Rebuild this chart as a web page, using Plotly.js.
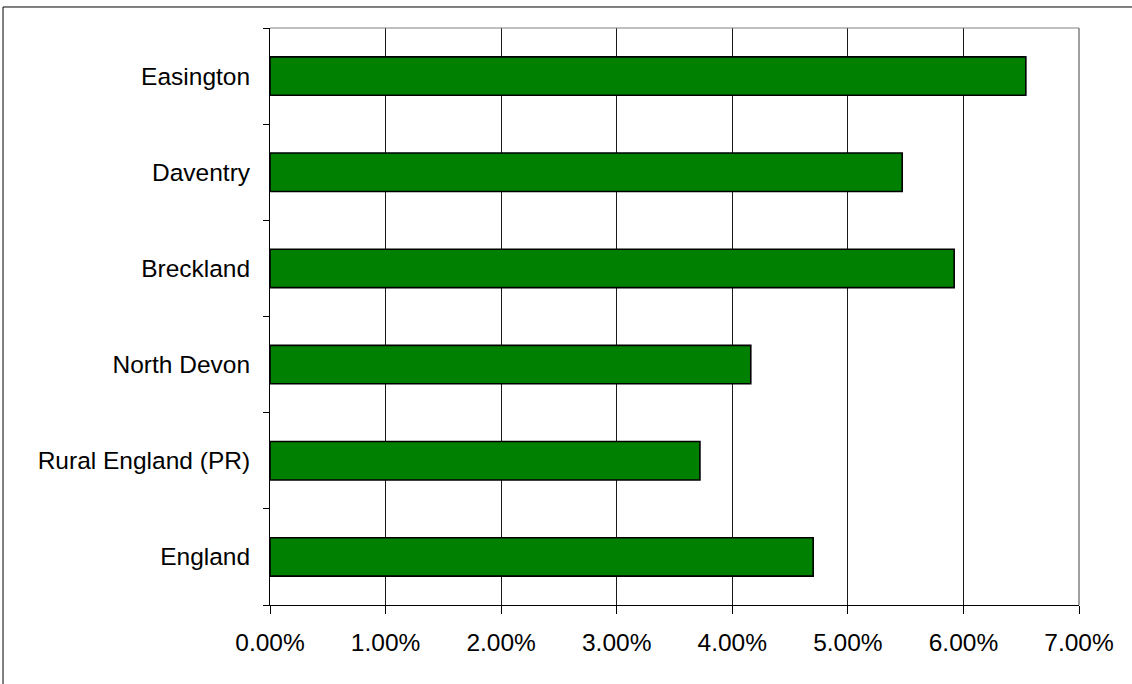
<!DOCTYPE html>
<html>
<head>
<meta charset="utf-8">
<script src="https://cdn.plot.ly/plotly-3.0.1.min.js"></script>
<style>html,body{margin:0;padding:0;background:#fff;}#chart{width:1132px;height:684px;}</style>
</head>
<body>
<div id="chart"></div>
<script>
const categories = ["England", "Rural England (PR)", "North Devon", "Breckland", "Daventry", "Easington"];
const values = [0.0470, 0.0372, 0.0416, 0.0592, 0.0547, 0.0654];
const xTickValues = [0, 0.01, 0.02, 0.03, 0.04, 0.05, 0.06, 0.07];

const trace = {
  type: "bar",
  orientation: "h",
  y: categories,
  x: values,
  marker: {color: "#008000", line: {color: "#000000", width: 1.6}},
  hoverinfo: "x+y"
};

const layout = {
  width: 1132, height: 684,
  margin: {l: 270, r: 53, t: 28, b: 79},
  paper_bgcolor: "#ffffff", plot_bgcolor: "#ffffff",
  bargap: 0.6,
  showlegend: false,
  font: {family: "Liberation Sans, Arial, sans-serif", size: 24.5, color: "#000"},
  xaxis: {
    range: [0, 0.07],
    tickvals: xTickValues,
    tickformat: ".2%",
    showgrid: true, gridcolor: "#1a1a1a", gridwidth: 1,
    zeroline: false,
    showline: true, linecolor: "#000000", linewidth: 1,
    ticks: "outside", ticklen: 8, tickcolor: "#000", tickwidth: 1,
    ticklabelstandoff: 8,
    tickfont: {size: 24.5}
  },
  yaxis: {
    type: "category",
    showgrid: false, zeroline: false,
    showline: true, linecolor: "#000000", linewidth: 1,
    ticks: "outside", ticklen: 6, tickcolor: "#000", tickwidth: 1,
    tickson: "boundaries",
    ticklabelstandoff: 14,
    tickfont: {size: 24.5}
  },
  shapes: [
    {type: "line", xref: "paper", yref: "paper", x0: 0, x1: 1, y0: 1, y1: 1, line: {color: "#808080", width: 1}},
    {type: "line", xref: "paper", yref: "paper", x0: 1, x1: 1, y0: 0, y1: 1, line: {color: "#808080", width: 1.5}},
    {type: "rect", xref: "paper", yref: "paper", x0: -0.330, x1: 1.2, y0: -0.3, y1: 1.0364, line: {color: "#000000", width: 1}, layer: "below"}
  ]
};

Plotly.newPlot("chart", [trace], layout, {displayModeBar: false, staticPlot: true});
</script>
</body>
</html>
